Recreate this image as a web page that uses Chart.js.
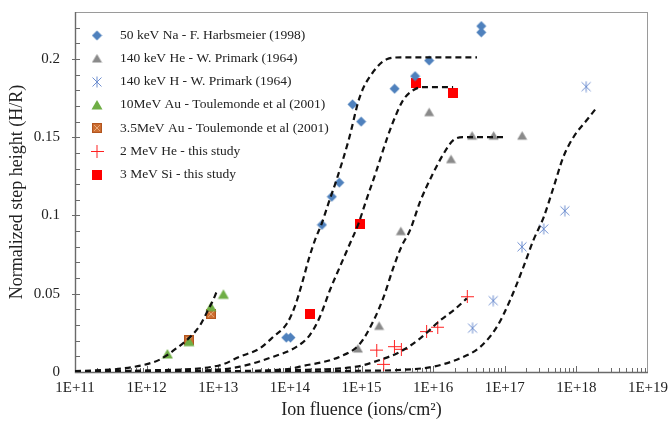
<!DOCTYPE html>
<html>
<head>
<meta charset="utf-8">
<script src="https://cdn.jsdelivr.net/npm/chart.js@4/dist/chart.umd.min.js"></script>
<style>
  html, body { margin: 0; background: #fff; }
  canvas { display: block; }
</style>
</head>
<body>
<canvas id="fluence-chart" width="671" height="421"></canvas>
<script>
// axis ticks
const xTicks = [1e11, 1e12, 1e13, 1e14, 1e15, 1e16, 1e17, 1e18, 1e19];
const yTicks = [0, 0.05, 0.1, 0.15, 0.2];

// measured step heights
const naFluence = [8.9e13, 1.02e14, 2.8e14, 3.85e14, 4.9e14, 7.5e14, 9.9e14, 2.9e15, 5.6e15, 8.8e15, 4.7e16, 4.7e16];
const naHeight = [0.022, 0.022, 0.094, 0.112, 0.121, 0.171, 0.160, 0.181, 0.189, 0.199, 0.221, 0.217];

const heFluence = [8.9e14, 1.76e15, 3.54e15, 8.8e15, 1.78e16, 3.5e16, 7e16, 1.75e17];
const heHeight = [0.015, 0.0295, 0.090, 0.166, 0.136, 0.151, 0.151, 0.151];

const hFluence = [3.55e16, 6.9e16, 1.74e17, 3.5e17, 6.9e17, 1.37e18];
const hHeight = [0.028, 0.0456, 0.080, 0.0914, 0.103, 0.1823];

const au10Fluence = [1.95e12, 3.9e12, 7.9e12, 1.18e13];
const au10Height = [0.0115, 0.0194, 0.0417, 0.0496];

const au35Fluence = [3.9e12, 7.9e12];
const au35Height = [0.0204, 0.037];

const he2Fluence = [1.63e15, 2.04e15, 2.88e15, 3.6e15, 8.1e15, 1.16e16, 3.0e16];
const he2Height = [0.014, 0.0049, 0.0162, 0.0145, 0.0258, 0.0286, 0.0481];

const siFluence = [1.91e14, 9.5e14, 5.8e15, 1.87e16];
const siHeight = [0.037, 0.0944, 0.1845, 0.178];

// fitted curves
const fitAuX = [1e11, 4.7e11, 1.1e12, 1.55e12, 2.6e12, 4.1e12, 5.6e12, 7.2e12, 8.5e12, 9.8e12];
const fitAuY = [0.0005, 0.0023, 0.0055, 0.0081, 0.0151, 0.0226, 0.030, 0.0396, 0.046, 0.053];

const fitNaX = [1e11, 1e12, 1e13, 2e13, 3.8e13, 5.9e13, 9.1e13, 1.17e14, 1.48e14, 1.82e14, 2.24e14, 2.79e14, 3.47e14, 4.5e14, 6.6e14, 9.5e14, 1.47e15, 2.25e15, 3.5e15, 4.1e16];
const fitNaY = [0.0003, 0.001, 0.004, 0.0098, 0.0151, 0.0226, 0.031, 0.0417, 0.0567, 0.0716, 0.0843, 0.095, 0.108, 0.123, 0.148, 0.176, 0.192, 0.1998, 0.201, 0.201];

const fitSiX = [1e11, 1e12, 1e13, 2e13, 5.9e13, 1.25e14, 1.9e14, 2.63e14, 3.63e14, 5e14, 6.6e14, 9.1e14, 1.17e15, 1.6e15, 2.3e15, 2.95e15, 3.85e15, 5.25e15, 7.2e15, 1.9e16];
const fitSiY = [0.0001, 0.0005, 0.0015, 0.0034, 0.0098, 0.0162, 0.0236, 0.0353, 0.0524, 0.0673, 0.080, 0.095, 0.11, 0.128, 0.150, 0.163, 0.174, 0.180, 0.182, 0.182];

const fitHeX = [1e11, 1e13, 1e14, 1.38e14, 5e14, 9.5e14, 1.48e15, 2.04e15, 2.8e15, 3.6e15, 4.8e15, 6.6e15, 1e16, 1.38e16, 1.9e16, 2.6e16, 9.5e16];
const fitHeY = [0, 0.0005, 0.002, 0.0034, 0.0098, 0.018, 0.033, 0.048, 0.067, 0.080, 0.091, 0.109, 0.127, 0.139, 0.148, 0.150, 0.150];

const fitHe2X = [1e11, 1e13, 1e14, 8.5e14, 1.8e15, 3.5e15, 6.6e15, 1.26e16, 2e16, 2.95e16];
const fitHe2Y = [0, 0.0002, 0.0012, 0.0034, 0.0077, 0.013, 0.0215, 0.033, 0.040, 0.047];

const fitHX = [1e11, 1e14, 1e15, 3.5e15, 1e16, 2.4e16, 4.6e16, 7.8e16, 1.19e17, 1.82e17, 2.5e17, 3.5e17, 4.8e17, 6.6e17, 9.1e17, 1.4e18, 1.89e18];
const fitHY = [0, 0.0003, 0.0008, 0.0013, 0.0034, 0.0088, 0.0162, 0.029, 0.046, 0.067, 0.084, 0.099, 0.118, 0.1376, 0.150, 0.161, 0.1685];


(function () {
  const serif = "'Liberation Serif', 'Times New Roman', serif";
  const zip = (xs, ys) => xs.map((x, i) => ({ x: x, y: ys[i] }));

  // small offscreen canvases used as point styles (and in the legend)
  function marker(size, draw) {
    const c = document.createElement("canvas");
    c.width = size; c.height = size;
    draw(c.getContext("2d"), size);
    return c;
  }
  const diamond = marker(11, (g, s) => {
    g.fillStyle = "#4f81bd";
    g.beginPath(); g.moveTo(s / 2, 0.5); g.lineTo(s - 0.5, s / 2); g.lineTo(s / 2, s - 0.5); g.lineTo(0.5, s / 2); g.closePath(); g.fill();
  });
  const triangle = (color, w) => marker(w, (g, s) => {
    g.fillStyle = color;
    g.beginPath(); g.moveTo(s / 2, 1); g.lineTo(s - 0.5, s - 1.5); g.lineTo(0.5, s - 1.5); g.closePath(); g.fill();
  });
  const asterisk = marker(12, (g, s) => {
    g.strokeStyle = "#6f8fd0"; g.lineWidth = 1;
    g.beginPath();
    g.moveTo(1.5, 1.5); g.lineTo(s - 1.5, s - 1.5);
    g.moveTo(s - 1.5, 1.5); g.lineTo(1.5, s - 1.5);
    g.moveTo(s / 2, 0.5); g.lineTo(s / 2, s - 0.5);
    g.stroke();
  });
  const hatched = marker(10, (g, s) => {
    g.fillStyle = "#cc6d30"; g.fillRect(0, 0, s, s);
    g.strokeStyle = "rgba(255,220,190,0.55)"; g.lineWidth = 1;
    g.beginPath(); g.moveTo(2, 2); g.lineTo(s - 2, s - 2); g.moveTo(s - 2, 2); g.lineTo(2, s - 2); g.stroke();
    g.strokeStyle = "rgba(160,70,20,0.6)"; g.strokeRect(0.5, 0.5, s - 1, s - 1);
  });
  const plus = marker(13, (g, s) => {
    g.strokeStyle = "#ff2020"; g.lineWidth = 1;
    g.beginPath(); g.moveTo(0, s / 2); g.lineTo(s, s / 2); g.moveTo(s / 2, 0); g.lineTo(s / 2, s); g.stroke();
  });
  const square = marker(10, (g, s) => { g.fillStyle = "#ff0000"; g.fillRect(0, 0, s, s); });

  const points = (label, xs, ys, style) => ({
    label: label, data: zip(xs, ys), pointStyle: style, pointRadius: 5, showLine: false, order: 1
  });
  const fit = (xs, ys) => ({
    data: zip(xs, ys), showLine: true, pointRadius: 0, borderColor: "#111", borderWidth: 2.2,
    borderDash: [6, 4], cubicInterpolationMode: "monotone", fill: false, order: 0
  });

  const datasets = [
    points("50 keV Na - F. Harbsmeier (1998)", naFluence, naHeight, diamond),
    points("140 keV He - W. Primark (1964)", heFluence, heHeight, triangle("#8a8a8a", 11)),
    points("140 keV H - W. Primark (1964)", hFluence, hHeight, asterisk),
    points("10MeV Au - Toulemonde et al (2001)", au10Fluence, au10Height, triangle("#6fae45", 12)),
    points("3.5MeV Au - Toulemonde et al (2001)", au35Fluence, au35Height, hatched),
    points("2 MeV He - this study", he2Fluence, he2Height, plus),
    points("3 MeV Si - this study", siFluence, siHeight, square),
    fit(fitAuX, fitAuY), fit(fitNaX, fitNaY), fit(fitSiX, fitSiY),
    fit(fitHeX, fitHeY), fit(fitHe2X, fitHe2Y), fit(fitHX, fitHY)
  ];

  // plot frame, axis lines and the small inward tick marks
  const frameAndTicks = {
    id: "frameAndTicks",
    beforeDatasetsDraw(chart) {
      const { ctx, chartArea: a, scales: { x, y } } = chart;
      ctx.save();
      ctx.strokeStyle = "#9a9a9a"; ctx.lineWidth = 1;
      ctx.strokeRect(a.left + 0.5, a.top + 0.5, a.right - a.left - 1, a.bottom - a.top);
      ctx.strokeStyle = "#6a6a6a"; ctx.lineWidth = 1.4;
      ctx.beginPath();
      ctx.moveTo(a.left + 0.5, a.top); ctx.lineTo(a.left + 0.5, a.bottom + 0.5); ctx.lineTo(a.right, a.bottom + 0.5);
      ctx.stroke();
      ctx.lineWidth = 1; ctx.strokeStyle = "#6a6a6a";
      ctx.beginPath();
      for (let e = 11; e < 19; e++) {
        for (let m = 1; m < 10; m++) {
          const px = Math.round(x.getPixelForValue(m * Math.pow(10, e))) + 0.5;
          ctx.moveTo(px, a.bottom); ctx.lineTo(px, a.bottom - (m === 1 ? 6 : 4));
        }
      }
      for (let k = 1; k <= 22; k++) {
        const py = Math.round(y.getPixelForValue(k / 100)) + 0.5;
        ctx.moveTo(a.left - (k % 5 === 0 ? 3 : 0), py); ctx.lineTo(a.left + 5, py);
      }
      ctx.stroke();
      ctx.restore();
    }
  };

  // legend inside the plot, top left
  const insideLegend = {
    id: "insideLegend",
    afterDraw(chart) {
      const { ctx, chartArea: a } = chart;
      ctx.save();
      ctx.font = "13.5px " + serif;
      ctx.fillStyle = "#222";
      ctx.textBaseline = "middle";
      chart.data.datasets.filter(d => d.label).forEach((d, i) => {
        const cy = a.top + 23 + i * 23.3;
        const img = d.pointStyle;
        ctx.drawImage(img, a.left + 22 - img.width / 2, Math.round(cy - img.height / 2));
        ctx.fillText(d.label, a.left + 45, cy);
      });
      ctx.restore();
    }
  };

  new Chart(document.getElementById("fluence-chart"), {
    type: "scatter",
    data: { datasets: datasets },
    options: {
      responsive: false,
      animation: false,
      layout: { padding: { top: 12, right: 23, left: 0, bottom: 0 } },
      plugins: { legend: { display: false }, tooltip: { enabled: false } },
      scales: {
        x: {
          type: "logarithmic",
          min: 1e11,
          max: 1e19,
          afterBuildTicks: s => { s.ticks = xTicks.map(v => ({ value: v, major: true })); },
          afterFit: s => { s.height = 49; s.paddingLeft = 0; s.paddingRight = 0; },
          grid: { display: false, drawTicks: false },
          border: { display: false },
          ticks: {
            callback: v => "1E+" + Math.round(Math.log10(v)),
            font: { family: serif, size: 15 },
            color: "#222",
            padding: 7,
            maxRotation: 0,
            autoSkip: false
          },
          title: {
            display: true,
            text: "Ion fluence (ions/cm²)",
            font: { family: serif, size: 18 },
            color: "#222",
            padding: 0
          }
        },
        y: {
          min: 0,
          max: 0.23,
          afterBuildTicks: s => { s.ticks = yTicks.map(v => ({ value: v })); },
          afterFit: s => { s.width = 75; s.paddingTop = 0; s.paddingBottom = 0; },
          grid: { display: false, drawTicks: false },
          border: { display: false },
          ticks: {
            callback: v => String(v),
            font: { family: serif, size: 15 },
            color: "#222",
            padding: 15
          },
          title: {
            display: true,
            text: "Normalized step height (H/R)",
            font: { family: serif, size: 18 },
            color: "#222",
            padding: { top: 6, bottom: 0 }
          }
        }
      }
    },
    plugins: [frameAndTicks, insideLegend]
  });
})();
</script>
</body>
</html>
